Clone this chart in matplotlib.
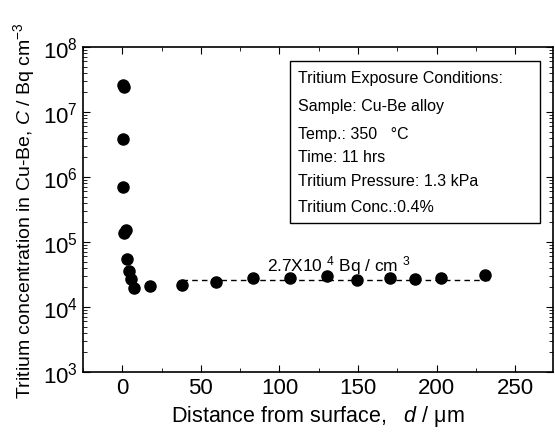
import numpy as np
import matplotlib
matplotlib.use("Agg")
import matplotlib.pyplot as plt
from matplotlib.ticker import LogLocator, MultipleLocator, NullFormatter

plt.rcParams['font.family'] = ['Liberation Sans', 'DejaVu Sans']
plt.rcParams['mathtext.fontset'] = 'custom'
plt.rcParams['mathtext.rm'] = 'Liberation Sans'
plt.rcParams['mathtext.it'] = 'Liberation Sans:italic'

# depth profile
depth = [0.3, 0.8, 0.5, 0.6, 1.3, 2.2, 3.0, 4.4, 5.8, 7.6, 17.7, 38, 59.5, 83, 107, 130, 149, 170, 186, 202.5, 231]
conc = [2.6e7, 2.4e7, 3.8e6, 7.0e5, 1.4e5, 1.55e5, 5.5e4, 3.6e4, 2.7e4, 1.95e4, 2.1e4,
        2.2e4, 2.4e4, 2.8e4, 2.8e4, 3.0e4, 2.6e4, 2.75e4, 2.7e4, 2.8e4, 3.1e4]
bulk_x = [38, 235]
bulk_c = 2.6e4

box_lines = ["Tritium Exposure Conditions:", "Sample: Cu-Be alloy", "Temp.: 350   \u00b0C",
             "Time: 11 hrs", "Tritium Pressure: 1.3 kPa", "Tritium Conc.:0.4%"]

fig = plt.figure(figsize=(5.55, 4.35), dpi=100)
ax = fig.add_axes([83/555, 1-373/435, 470/555, 325/435])

ax.plot(depth, conc, 'o', color='black', ms=8)
ax.plot(bulk_x, [bulk_c, bulk_c], '--', color='black', lw=1, dashes=(4, 3))

ax.set_yscale('log')
ax.set_ylim(1e3, 1e8)
ax.set_xlim(-25, 274)
ax.xaxis.set_major_locator(MultipleLocator(50))
ax.xaxis.set_minor_locator(MultipleLocator(25))
ax.yaxis.set_major_locator(LogLocator(base=10, numticks=10))
ax.yaxis.set_minor_locator(LogLocator(base=10, subs=np.arange(2, 10), numticks=10))
ax.yaxis.set_minor_formatter(NullFormatter())
ax.tick_params(which='both', direction='in', top=True, right=True, labelsize=16)
ax.tick_params(which='major', length=5)
ax.tick_params(which='minor', length=3)
for s in ax.spines.values():
    s.set_linewidth(1.2)

ax.set_xlabel("Distance from surface,   $d$ / \u03bcm", fontsize=15.5)
ax.set_ylabel("Tritium concentration in Cu-Be, $C$ / Bq cm$^{-3}$", fontsize=14)

ax.text(92, 3.7e4, "2.7X10 $^{4}$ Bq / cm $^{3}$", fontsize=12.5)

rect = plt.Rectangle((290/555, 1-224/435), 250/555, 162/435, transform=fig.transFigure,
                     fill=False, edgecolor='black', lw=1)
fig.add_artist(rect)
ys = [79, 106, 135, 158, 182, 208]
for t, y in zip(box_lines, ys):
    fig.text(298/555, 1-y/435, t, fontsize=11.5, va='center')

fig.savefig("out.png", dpi=100)
